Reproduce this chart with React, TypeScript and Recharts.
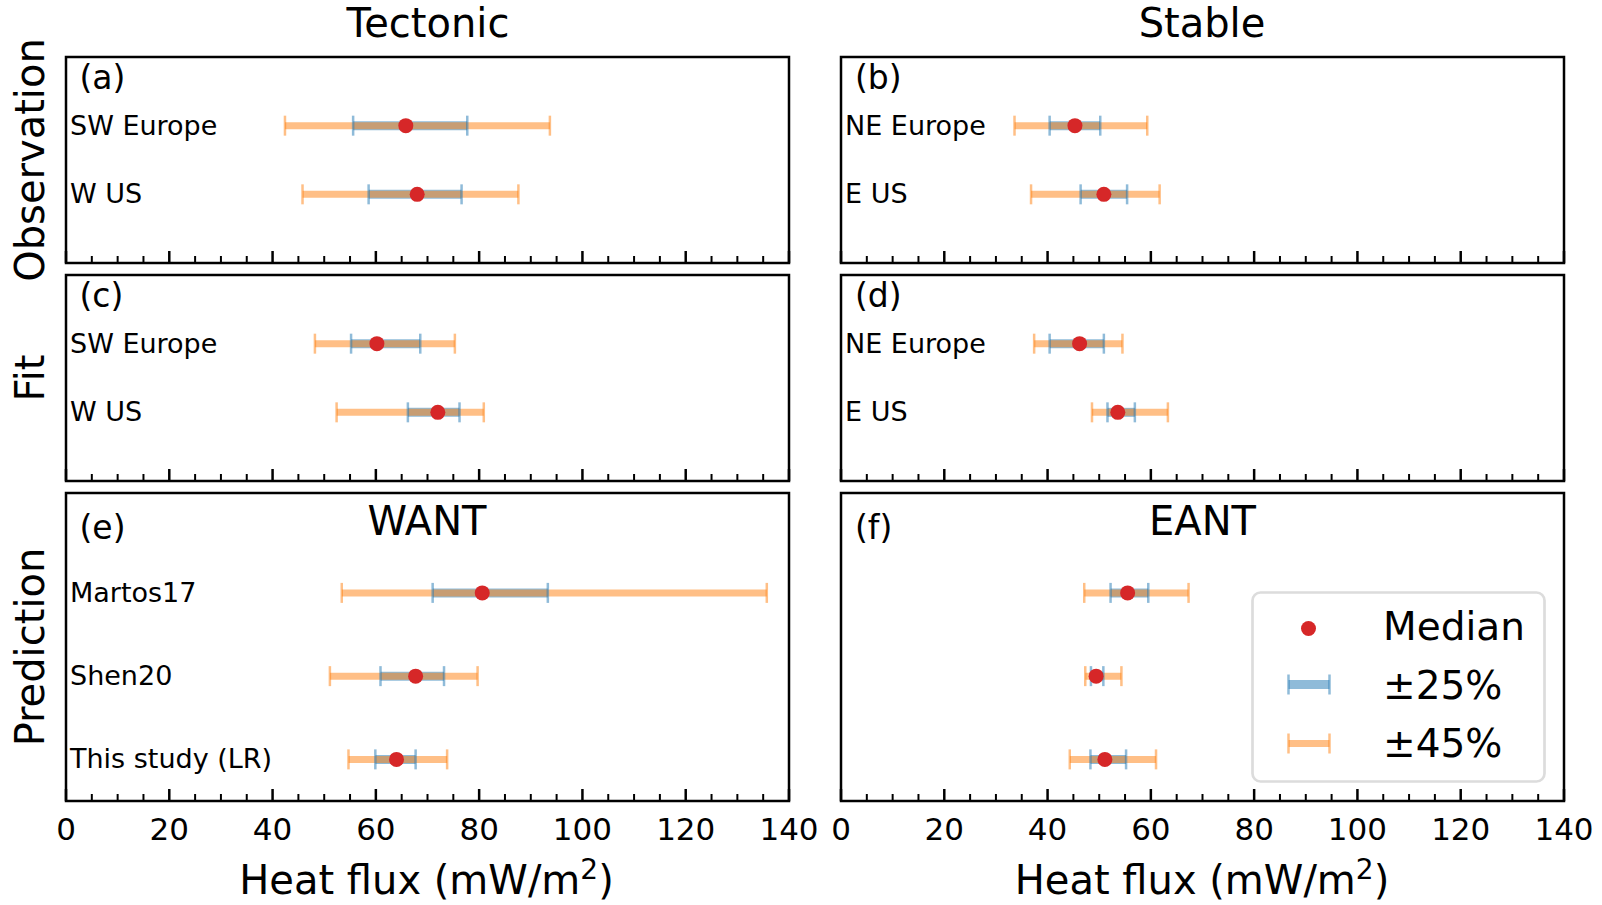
import React from 'react';
import { ScatterChart, Scatter, XAxis, YAxis, ErrorBar, ReferenceArea, Legend } from 'recharts';

const FONT = '"DejaVu Sans", "Liberation Sans", sans-serif';
const BLUE = '#1f77b4';
const ORANGE = '#ff7f0e';
const RED = '#d62728';

// x-axis ticks
const majorTicks = [0, 20, 40, 60, 80, 100, 120, 140];
const minorTicks = [5, 10, 15, 25, 30, 35, 45, 50, 55, 65, 70, 75, 85, 90, 95, 105, 110, 115, 125, 130, 135];
const allTicks = [...majorTicks, ...minorTicks].sort((a, b) => a - b);

// (a) Tectonic / Observation
const aLabels = ['SW Europe', 'W US'];
const aMedian = [65.8, 68.0];
const aLo25 = [55.6, 58.6];
const aHi25 = [77.7, 76.6];
const aLo45 = [42.4, 45.8];
const aHi45 = [93.7, 87.6];

// (b) Stable / Observation
const bLabels = ['NE Europe', 'E US'];
const bMedian = [45.3, 50.9];
const bLo25 = [40.4, 46.4];
const bHi25 = [50.2, 55.4];
const bLo45 = [33.6, 36.8];
const bHi45 = [59.3, 61.7];

// (c) Tectonic / Fit
const cLabels = ['SW Europe', 'W US'];
const cMedian = [60.2, 72.0];
const cLo25 = [55.2, 66.2];
const cHi25 = [68.6, 76.2];
const cLo45 = [48.2, 52.4];
const cHi45 = [75.3, 80.9];

// (d) Stable / Fit
const dLabels = ['NE Europe', 'E US'];
const dMedian = [46.2, 53.6];
const dLo25 = [40.4, 51.6];
const dHi25 = [50.9, 56.9];
const dLo45 = [37.4, 48.6];
const dHi45 = [54.5, 63.3];

// (e) WANT / Prediction
const eLabels = ['Martos17', 'Shen20', 'This study (LR)'];
const eMedian = [80.6, 67.7, 64.0];
const eLo25 = [71.0, 60.9, 59.9];
const eHi25 = [93.3, 73.2, 67.7];
const eLo45 = [53.4, 51.1, 54.7];
const eHi45 = [135.7, 79.7, 73.8];

// (f) EANT / Prediction
const fLabels = ['', '', ''];
const fMedian = [55.5, 49.4, 51.1];
const fLo25 = [52.2, 48.4, 48.3];
const fHi25 = [59.5, 50.8, 55.2];
const fLo45 = [47.1, 47.3, 44.3];
const fHi45 = [67.3, 54.3, 61.0];

const legendItems = ['Median', '±25%', '±45%'];

function buildRows(median: number[], lo25: number[], hi25: number[], lo45: number[], hi45: number[]) {
  return median.map((m, i) => ({
    row: i,
    val: m,
    e25: [m - lo25[i], hi25[i] - m],
    e45: [m - lo45[i], hi45[i] - m],
  }));
}

function buildCaps(lo: number[], hi: number[]) {
  const out: { row: number; val: number }[] = [];
  lo.forEach((l, i) => {
    out.push({ row: i, val: l });
    out.push({ row: i, val: hi[i] });
  });
  return out;
}

const emptyShape = () => <g />;
const dotShape = (p: any) => <circle cx={p.cx} cy={p.cy} r={7.5} fill={RED} />;
const capShape = (color: string) => (p: any) => (
  <line x1={p.cx} x2={p.cx} y1={p.cy - 10} y2={p.cy + 10} stroke={color} strokeWidth={2.5} strokeOpacity={0.5} />
);

function XTick(props: any) {
  const { x, y, payload, showLabel } = props;
  const v = payload.value;
  const major = majorTicks.includes(v);
  return (
    <g>
      <line x1={x} x2={x} y1={y} y2={y - (major ? 12 : 7)} stroke="#000" strokeWidth={major ? 2.5 : 2} />
      {major && showLabel ? (
        <text x={x} y={y + 39} textAnchor="middle" fontSize={31} fontFamily={FONT} fill="#000">
          {v}
        </text>
      ) : null}
    </g>
  );
}

function YTick(props: any) {
  const { y, payload, labels, plotLeft } = props;
  const t = labels[payload.value] ?? '';
  return (
    <text x={plotLeft + 5} y={y} dy={9} textAnchor="start" fontSize={27} fontFamily={FONT} fill="#000">
      {t}
    </text>
  );
}

function LegendBox() {
  const ys = [48.5, 107.5, 166];
  return (
    <svg width={296} height={194} style={{ display: 'block', overflow: 'visible' }}>
      <rect x={1.5} y={1.5} width={292} height={189} rx={8} ry={8} fill="#fff" fillOpacity={0.8} stroke="#dcdcdc" strokeWidth={2.7} />
      <circle cx={57.5} cy={37.5} r={7.5} fill={RED} />
      <line x1={37.5} x2={78.5} y1={93.5} y2={93.5} stroke={BLUE} strokeWidth={9} strokeOpacity={0.5} />
      <line x1={37.5} x2={37.5} y1={83.5} y2={103.5} stroke={BLUE} strokeWidth={2.5} strokeOpacity={0.5} />
      <line x1={78.5} x2={78.5} y1={83.5} y2={103.5} stroke={BLUE} strokeWidth={2.5} strokeOpacity={0.5} />
      <line x1={37.5} x2={78.5} y1={152.5} y2={152.5} stroke={ORANGE} strokeWidth={7} strokeOpacity={0.5} />
      <line x1={37.5} x2={37.5} y1={142.5} y2={162.5} stroke={ORANGE} strokeWidth={2.5} strokeOpacity={0.5} />
      <line x1={78.5} x2={78.5} y1={142.5} y2={162.5} stroke={ORANGE} strokeWidth={2.5} strokeOpacity={0.5} />
      {legendItems.map((t, i) => (
        <text key={t} x={132} y={ys[i]} fontSize={39} fontFamily={FONT} fill="#000">
          {t}
        </text>
      ))}
    </svg>
  );
}

const PLOT_W = 724;
const M_L = 20;
const M_R = 35;
const M_T = 5;
const AXIS_H = 50;

type PanelProps = {
  left: number;
  top: number;
  plotH: number;
  yDomain: [number, number];
  labels: string[];
  median: number[];
  lo25: number[];
  hi25: number[];
  lo45: number[];
  hi45: number[];
  showTickLabels: boolean;
  legend?: boolean;
};

function Panel(p: PanelProps) {
  const rows = buildRows(p.median, p.lo25, p.hi25, p.lo45, p.hi45);
  const caps25 = buildCaps(p.lo25, p.hi25);
  const caps45 = buildCaps(p.lo45, p.hi45);
  const yTicks = p.labels.map((_, i) => i);
  return (
    <div style={{ position: 'absolute', left: p.left - M_L, top: p.top - M_T }}>
      <ScatterChart
        width={PLOT_W + M_L + M_R}
        height={p.plotH + M_T + AXIS_H}
        margin={{ top: M_T, right: M_R, bottom: 0, left: M_L }}
      >
        <XAxis
          type="number"
          dataKey="val"
          domain={[0, 140]}
          allowDataOverflow
          ticks={allTicks}
          interval={0}
          height={AXIS_H}
          tickSize={0}
          tickMargin={0}
          axisLine={false}
          tickLine={false}
          tick={(tp: any) => <XTick {...tp} showLabel={p.showTickLabels} />}
        />
        <YAxis
          type="number"
          dataKey="row"
          domain={p.yDomain}
          allowDataOverflow
          reversed
          ticks={yTicks}
          interval={0}
          width={1}
          axisLine={false}
          tickLine={false}
          tickSize={0}
          tickMargin={0}
          tick={(tp: any) => <YTick {...tp} labels={p.labels} plotLeft={M_L} />}
        />
        <ReferenceArea
          x1={0}
          x2={140}
          y1={p.yDomain[0]}
          y2={p.yDomain[1]}
          fill="none"
          fillOpacity={0}
          stroke="#000"
          strokeWidth={2.5}
          strokeOpacity={1}
          ifOverflow="visible"
        />
        <Scatter data={rows} shape={emptyShape} isAnimationActive={false}>
          <ErrorBar dataKey="e25" direction="x" width={0} stroke={BLUE} strokeWidth={9} strokeOpacity={0.5} isAnimationActive={false} />
        </Scatter>
        <Scatter data={caps25} shape={capShape(BLUE)} isAnimationActive={false} />
        <Scatter data={rows} shape={emptyShape} isAnimationActive={false}>
          <ErrorBar dataKey="e45" direction="x" width={0} stroke={ORANGE} strokeWidth={7} strokeOpacity={0.5} isAnimationActive={false} />
        </Scatter>
        <Scatter data={caps45} shape={capShape(ORANGE)} isAnimationActive={false} />
        <Scatter data={rows} shape={dotShape} isAnimationActive={false} />
        {p.legend ? (
          <Legend
            verticalAlign="middle"
            align="center"
            layout="horizontal"
            content={() => <LegendBox />}
            wrapperStyle={{ left: 430.5, top: 102.5, width: 296, height: 194, margin: 0, padding: 0 }}
          />
        ) : null}
      </ScatterChart>
    </div>
  );
}

const LX = 64.5;
const RX = 840;
const ROW_TOPS = [57, 275, 493];
const ROW_H = [206, 206, 308];

export default function App() {
  const txt = { fontFamily: FONT, fill: '#000' } as const;
  return (
    <div style={{ position: 'absolute', left: 0, top: 0, width: 1602, height: 905, background: '#fff', overflow: 'hidden' }}>
      <Panel left={LX} top={ROW_TOPS[0]} plotH={ROW_H[0]} yDomain={[-1, 2]} labels={aLabels} median={aMedian} lo25={aLo25} hi25={aHi25} lo45={aLo45} hi45={aHi45} showTickLabels={false} />
      <Panel left={RX} top={ROW_TOPS[0]} plotH={ROW_H[0]} yDomain={[-1, 2]} labels={bLabels} median={bMedian} lo25={bLo25} hi25={bHi25} lo45={bLo45} hi45={bHi45} showTickLabels={false} />
      <Panel left={LX} top={ROW_TOPS[1]} plotH={ROW_H[1]} yDomain={[-1, 2]} labels={cLabels} median={cMedian} lo25={cLo25} hi25={cHi25} lo45={cLo45} hi45={cHi45} showTickLabels={false} />
      <Panel left={RX} top={ROW_TOPS[1]} plotH={ROW_H[1]} yDomain={[-1, 2]} labels={dLabels} median={dMedian} lo25={dLo25} hi25={dHi25} lo45={dLo45} hi45={dHi45} showTickLabels={false} />
      <Panel left={LX} top={ROW_TOPS[2]} plotH={ROW_H[2]} yDomain={[-1.2, 2.5]} labels={eLabels} median={eMedian} lo25={eLo25} hi25={eHi25} lo45={eLo45} hi45={eHi45} showTickLabels={true} />
      <Panel left={RX} top={ROW_TOPS[2]} plotH={ROW_H[2]} yDomain={[-1.2, 2.5]} labels={fLabels} median={fMedian} lo25={fLo25} hi25={fHi25} lo45={fLo45} hi45={fHi45} showTickLabels={true} legend />

      <svg width={1602} height={905} style={{ position: 'absolute', left: 0, top: 0, pointerEvents: 'none' }}>
        <text x={428} y={37} textAnchor="middle" fontSize={40} {...txt}>Tectonic</text>
        <text x={1202} y={37} textAnchor="middle" fontSize={40} {...txt}>Stable</text>

        <text transform="translate(44,160) rotate(-90)" textAnchor="middle" fontSize={40} {...txt}>Observation</text>
        <text transform="translate(44,378) rotate(-90)" textAnchor="middle" fontSize={40} {...txt}>Fit</text>
        <text transform="translate(44,647) rotate(-90)" textAnchor="middle" fontSize={40} {...txt}>Prediction</text>

        <text x={79.5} y={89} fontSize={33} {...txt}>(a)</text>
        <text x={855} y={89} fontSize={33} {...txt}>(b)</text>
        <text x={79.5} y={307} fontSize={33} {...txt}>(c)</text>
        <text x={855} y={307} fontSize={33} {...txt}>(d)</text>
        <text x={79.5} y={539} fontSize={33} {...txt}>(e)</text>
        <text x={855} y={539} fontSize={33} {...txt}>(f)</text>

        <text x={427} y={535} textAnchor="middle" fontSize={40} {...txt}>WANT</text>
        <text x={1202.5} y={535} textAnchor="middle" fontSize={40} {...txt}>EANT</text>

        <text x={426.5} y={894} textAnchor="middle" fontSize={40} {...txt}>
          Heat flux (mW/m<tspan fontSize={28} dy={-15}>2</tspan><tspan dy={15}>)</tspan>
        </text>
        <text x={1202} y={894} textAnchor="middle" fontSize={40} {...txt}>
          Heat flux (mW/m<tspan fontSize={28} dy={-15}>2</tspan><tspan dy={15}>)</tspan>
        </text>
      </svg>
    </div>
  );
}
